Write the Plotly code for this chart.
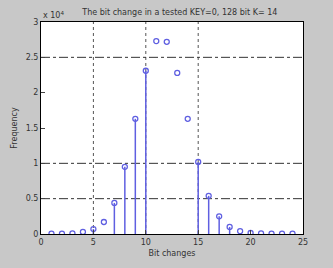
import plotly.graph_objects as go

bits = list(range(1, 25))
freq = [0.005, 0.005, 0.01, 0.03, 0.07, 0.17, 0.44, 0.95, 1.63, 2.31, 2.73, 2.72,
        2.28, 1.63, 1.02, 0.54, 0.25, 0.10, 0.04, 0.015, 0.008, 0.005, 0.005, 0.005]
stem_shown = [False, False, False, False, True, False, True, True, True, True, False, False,
              False, False, True, True, True, True, False, False, False, False, False, False]
x_ticks = [0, 5, 10, 15, 20, 25]
y_ticks = [0, 0.5, 1, 1.5, 2, 2.5, 3]
y_tick_text = ["0", "0.5", "1", "1.5", "2", "2.5", "3"]
x_grid = [5, 10, 15]
y_grid = [0.5, 1, 2.5]

blue = "rgb(95,95,225)"
sx, sy = [], []
for b, f, s in zip(bits, freq, stem_shown):
    if s:
        sx += [b, b, None]
        sy += [0, f, None]

fig = go.Figure()
fig.add_trace(go.Scatter(x=sx, y=sy, mode="lines", line=dict(color=blue, width=1.5),
                         hoverinfo="skip", showlegend=False))
fig.add_trace(go.Scatter(x=bits, y=freq, mode="markers",
                         marker=dict(symbol="circle-open", size=5, color=blue, line=dict(width=1.3)),
                         showlegend=False))

shapes = []
for g in x_grid:
    shapes.append(dict(type="line", xref="x", yref="y", x0=g, x1=g, y0=0, y1=3,
                       line=dict(color="#555", width=1, dash="dot"), layer="below"))
for g in y_grid:
    shapes.append(dict(type="line", xref="x", yref="y", x0=0, x1=25, y0=g, y1=g,
                       line=dict(color="#333", width=1, dash="dashdot"), layer="below"))

font = dict(family="DejaVu Sans", size=8, color="#333")
fig.update_layout(
    width=333, height=268,
    margin=dict(l=41, r=30, t=22, b=31),
    paper_bgcolor="#c8c8c8", plot_bgcolor="white",
    font=font,
    shapes=shapes,
    title=dict(text="The bit change in a tested KEY=0, 128 bit K= 14", x=0.54, xanchor="center",
               y=0.955, yanchor="middle", font=dict(family="DejaVu Sans", size=8, color="#333")),
    xaxis=dict(range=[0, 25], tickvals=x_ticks, ticks="inside", ticklen=4, showgrid=False,
               zeroline=False, showline=True, linecolor="black", linewidth=1, mirror=True,
               title=dict(text="Bit changes", standoff=4, font=font)),
    yaxis=dict(range=[0, 3], tickvals=y_ticks, ticktext=y_tick_text, ticks="inside", ticklen=4,
               showgrid=False, zeroline=False, showline=True, linecolor="black", linewidth=1,
               mirror=True, title=dict(text="Frequency", standoff=6, font=font)),
    annotations=[dict(text="x 10<sup>4</sup>", xref="paper", yref="paper", x=0.0, y=1.0,
                      xanchor="left", yanchor="bottom", showarrow=False,
                      font=dict(family="DejaVu Sans", size=8, color="#333"))],
)
fig.write_html("out.html")
